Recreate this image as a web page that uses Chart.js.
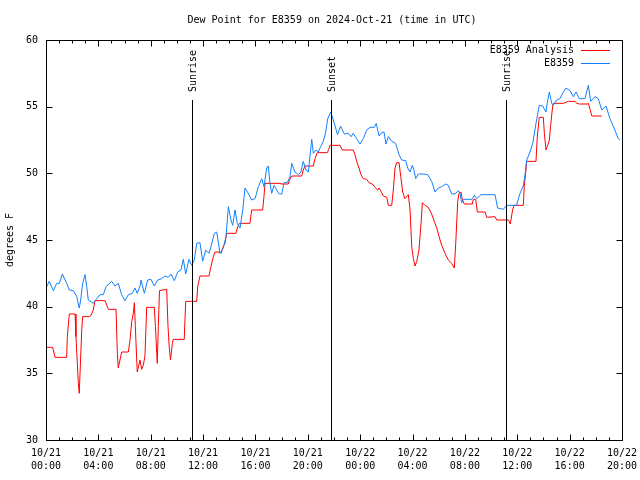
<!DOCTYPE html>
<html>
<head>
<meta charset="utf-8">
<script src="https://cdn.jsdelivr.net/npm/chart.js@4/dist/chart.umd.min.js"></script>
<style>
  html, body { margin: 0; padding: 0; background: #fff; }
  canvas { display: block; }
</style>
</head>
<body>
<canvas id="dewChart" width="640" height="480"></canvas>
<script>
// hours since 2024-10-21 00:00 UTC, dew point in degrees F
const obsHours = [0.05,0.25,0.56,0.82,1.02,1.25,1.58,1.78,2.09,2.35,2.54,2.65,2.80,2.98,3.11,3.23,3.61,3.87,4.13,4.38,
  4.58,5.02,5.27,5.52,5.78,6.03,6.29,6.59,6.80,6.97,7.18,7.26,7.51,7.77,8.02,8.27,8.53,8.84,9.09,9.34,
  9.55,9.80,10.06,10.31,10.49,10.67,10.92,11.13,11.33,11.51,11.76,11.97,12.20,12.45,12.60,12.86,13.04,13.29,13.54,13.75,
  13.93,14.13,14.26,14.44,14.61,14.82,15.03,15.20,15.45,15.71,15.97,16.22,16.48,16.65,16.86,16.98,17.11,17.24,17.42,17.62,
  17.82,18.01,18.18,18.43,18.64,18.77,19.02,19.27,19.48,19.65,19.86,20.04,20.30,20.42,20.63,20.80,20.98,21.18,21.37,21.52,
  21.75,21.95,22.27,22.50,22.79,23.09,23.30,23.47,23.73,23.99,24.24,24.50,24.75,25.08,25.23,25.44,25.64,25.82,25.97,26.15,
  26.41,26.71,26.97,27.17,27.48,27.63,27.81,27.98,28.11,28.24,28.44,28.82,29.16,29.46,29.72,29.97,30.23,30.53,30.73,30.99,
  31.24,31.50,31.63,31.75,31.88,32.14,32.52,32.72,32.90,33.23,34.30,34.50,34.93,35.19,35.94,36.21,36.46,36.59,36.72,36.97,
  37.18,37.43,37.68,37.94,38.19,38.29,38.45,38.63,38.75,39.01,39.26,39.52,39.72,40.03,40.28,40.49,40.74,41.17,41.43,41.61,
  41.94,42.19,42.45,42.78,43.08,43.39,43.72,43.85];
const obsDew = [41.5,41.9,41.2,41.75,41.75,42.45,41.75,41.25,41.2,40.75,39.9,40.5,41.75,42.4,41.5,40.5,40.25,40.6,40.9,40.9,
  41.5,41.9,41.55,41.75,40.9,40.45,40.9,41.0,41.4,41.0,41.55,42.0,41.0,42.0,42.05,41.55,42.0,42.1,42.3,42.2,
  42.45,41.95,42.6,42.75,43.55,42.45,43.55,43.1,43.5,44.75,44.8,43.4,44.25,44.0,44.5,45.5,45.6,44.0,44.4,45.25,
  47.5,46.5,46.1,47.25,46.25,45.9,47.25,48.9,48.5,48.0,48.1,49.0,49.6,49.0,50.4,50.55,49.25,48.5,49.1,48.75,
  48.45,48.45,49.3,49.3,49.75,50.75,50.1,49.9,50.1,50.9,50.25,50.1,52.55,51.5,51.75,51.6,52.0,52.4,53.1,54.1,
  54.6,54.0,52.9,53.55,52.95,53.0,52.75,53.0,52.6,52.2,52.6,53.25,53.45,53.45,53.75,52.8,53.05,53.1,52.2,52.75,
  52.4,52.25,51.4,51.0,50.95,50.4,50.1,50.6,50.25,49.6,49.95,49.95,49.9,49.4,48.6,48.9,49.0,49.2,49.1,48.45,
  48.45,48.7,48.5,47.8,48.05,48.05,48.05,48.35,48.1,48.4,48.4,47.4,47.3,47.6,47.6,48.5,49.05,49.9,51.0,51.6,
  52.25,53.75,55.1,55.05,54.6,55.25,56.1,55.25,55.1,55.5,55.6,56.1,56.4,56.2,55.75,56.1,55.6,55.6,56.6,55.4,
  55.75,55.6,54.75,55.05,54.1,53.4,52.6,52.5];

const anaHours = [0.05,0.51,0.69,1.58,1.63,1.78,2.22,2.29,2.47,2.54,2.60,2.73,2.80,3.31,3.44,3.61,3.74,4.51,4.76,5.35,
  5.45,5.52,5.65,5.78,6.29,6.42,6.55,6.67,6.75,6.82,6.97,7.18,7.31,7.43,7.56,7.69,8.27,8.36,8.46,8.50,
  8.58,8.67,9.22,9.32,9.42,9.51,9.65,9.72,10.56,10.67,11.51,11.59,11.76,12.45,12.60,12.78,12.91,13.29,13.37,13.54,
  13.67,13.80,14.51,14.61,14.77,15.58,15.71,16.55,16.65,16.73,17.88,17.93,18.51,18.59,18.77,19.53,19.65,19.79,20.42,20.55,
  20.72,21.49,21.60,21.69,22.46,22.63,23.47,23.60,23.73,23.91,24.06,24.24,24.50,24.67,24.93,25.13,25.34,25.44,25.64,25.77,
  26.03,26.15,26.41,26.53,26.66,26.79,26.97,27.10,27.25,27.42,27.68,27.81,27.94,28.06,28.19,28.32,28.49,28.65,28.75,28.95,
  29.20,29.46,29.66,29.85,30.10,30.23,30.48,30.73,30.99,31.19,31.30,31.45,31.55,31.70,31.80,31.95,32.57,32.64,32.82,32.95,
  33.54,33.67,34.30,34.43,35.32,35.47,35.64,35.75,36.46,36.54,36.64,36.72,37.43,37.53,37.68,37.99,38.07,38.19,38.29,38.45,
  38.55,38.71,38.75,39.52,39.90,40.41,40.54,40.74,41.35,41.43,41.56,41.69,42.45];
const anaDew = [36.95,36.95,36.2,36.2,37.75,39.45,39.45,37.75,34.25,33.5,35.0,38.25,39.25,39.25,39.35,39.75,40.45,40.45,39.8,39.8,
  36.5,35.4,36.0,36.6,36.6,37.5,38.9,39.5,40.3,38.6,35.1,36.0,35.3,35.6,36.3,39.95,39.95,38.5,36.5,35.75,
  38.5,41.2,41.3,38.5,36.9,36.0,37.25,37.55,37.55,40.4,40.4,41.5,42.3,42.3,43.0,43.75,44.1,44.1,44.0,44.5,
  44.75,45.5,45.5,45.9,46.25,46.25,47.25,47.25,48.25,49.25,49.25,49.2,49.2,49.5,49.8,49.8,50.25,50.55,50.55,51.1,
  51.55,51.55,51.8,52.1,52.1,51.75,51.75,51.4,50.9,50.4,49.9,49.6,49.55,49.3,49.2,48.95,48.75,48.9,48.55,48.3,
  48.2,47.6,47.6,48.75,50.4,50.8,50.8,49.75,48.6,48.1,48.4,47.25,44.5,43.6,43.05,43.4,44.25,46.25,47.8,47.6,
  47.45,46.95,46.4,45.9,45.0,44.6,44.0,43.5,43.25,42.9,44.75,47.9,48.5,48.6,48.05,47.7,47.7,48.05,48.05,47.1,
  47.1,46.7,46.75,46.5,46.5,46.2,47.25,47.6,47.6,49.1,50.0,50.9,50.9,52.75,54.2,54.2,53.0,51.75,52.0,52.5,
  53.6,55.1,55.25,55.25,55.4,55.4,55.25,55.2,55.2,55.25,54.8,54.3,54.3];

const xTickLabels = [
  ['10/21', '00:00'], ['10/21', '04:00'], ['10/21', '08:00'], ['10/21', '12:00'],
  ['10/21', '16:00'], ['10/21', '20:00'], ['10/22', '00:00'], ['10/22', '04:00'],
  ['10/22', '08:00'], ['10/22', '12:00'], ['10/22', '16:00'], ['10/22', '20:00']
];

const eventLabels = ['Sunrise', 'Sunset', 'Sunrise'];
const eventHours = [11.18, 21.75, 35.14];

const seriesNames = ['E8359 Analysis', 'E8359'];
const seriesColors = ['#ff0000', '#1080ff'];

const titleText = 'Dew Point for E8359 on 2024-Oct-21 (time in UTC)';
const yTitle = 'degrees F';
const monoFont = '10px "DejaVu Sans Mono", monospace';

function toPoints(xs, ys) {
  return xs.map((x, i) => ({ x, y: ys[i] }));
}

const frame = {
  id: 'frame',
  afterDraw(chart) {
    const ctx = chart.ctx;
    const area = chart.chartArea;
    const xs = chart.scales.x;
    const ys = chart.scales.y;
    ctx.save();
    ctx.strokeStyle = '#000';
    ctx.lineWidth = 1;

    // event markers
    const lineTop = ys.getPixelForValue(55.5);
    eventHours.forEach((h, i) => {
      const px = Math.round(xs.getPixelForValue(h)) + 0.5;
      ctx.beginPath();
      ctx.moveTo(px, lineTop);
      ctx.lineTo(px, area.bottom);
      ctx.stroke();
      ctx.save();
      ctx.translate(px + 1, lineTop - 8);
      ctx.rotate(-Math.PI / 2);
      ctx.font = monoFont;
      ctx.fillStyle = '#000';
      ctx.textAlign = 'left';
      ctx.textBaseline = 'middle';
      ctx.fillText(eventLabels[i], 0, 0);
      ctx.restore();
    });

    // box
    const l = Math.round(area.left) + 0.5, r = Math.round(area.right) + 0.5;
    const t = Math.round(area.top) + 0.5, b = Math.round(area.bottom) + 0.5;
    ctx.strokeRect(l, t, r - l, b - t);

    // inward ticks
    ctx.beginPath();
    for (let h = 0; h <= 44; h++) {
      const px = Math.round(xs.getPixelForValue(h)) + 0.5;
      const len = h % 4 === 0 ? 6 : 3;
      ctx.moveTo(px, b); ctx.lineTo(px, b - len);
      ctx.moveTo(px, t); ctx.lineTo(px, t + len);
    }
    for (let v = 30; v <= 60; v += 5) {
      const py = Math.round(ys.getPixelForValue(v)) + 0.5;
      ctx.moveTo(l, py); ctx.lineTo(l + 6, py);
      ctx.moveTo(r, py); ctx.lineTo(r - 6, py);
    }
    ctx.stroke();

    // title and y label
    ctx.font = monoFont;
    ctx.fillStyle = '#000';
    ctx.textAlign = 'center';
    ctx.textBaseline = 'middle';
    ctx.fillText(titleText, 332, 20);
    ctx.save();
    ctx.translate(10, 240);
    ctx.rotate(-Math.PI / 2);
    ctx.fillText(yTitle, 0, 0);
    ctx.restore();

    // legend
    ctx.textAlign = 'right';
    seriesNames.forEach((name, i) => {
      const y = 50 + i * 13;
      ctx.fillStyle = '#000';
      ctx.fillText(name, 574, y);
      ctx.strokeStyle = seriesColors[i];
      ctx.beginPath();
      ctx.moveTo(581, y + 0.5);
      ctx.lineTo(610, y + 0.5);
      ctx.stroke();
    });
    ctx.restore();
  }
};

new Chart(document.getElementById('dewChart'), {
  type: 'line',
  data: {
    datasets: [
      {
        label: seriesNames[0],
        data: toPoints(anaHours, anaDew),
        borderColor: seriesColors[0],
        borderWidth: 1,
        pointRadius: 0,
        tension: 0,
        order: 1
      },
      {
        label: seriesNames[1],
        data: toPoints(obsHours, obsDew),
        borderColor: seriesColors[1],
        borderWidth: 1,
        pointRadius: 0,
        tension: 0,
        order: 0
      }
    ]
  },
  options: {
    responsive: false,
    animation: false,
    devicePixelRatio: 1,
    layout: { padding: { top: 40, right: 18, bottom: 0, left: 0 } },
    plugins: {
      legend: { display: false },
      title: { display: false },
      tooltip: { enabled: false }
    },
    scales: {
      x: {
        type: 'linear',
        min: 0,
        max: 44,
        grid: { display: false, drawTicks: false },
        border: { display: false },
        afterFit(scale) {
          scale.height = 40;
          scale.paddingLeft = 0;
          scale.paddingRight = 0;
        },
        afterBuildTicks(scale) {
          scale.ticks = xTickLabels.map((_, i) => ({ value: i * 4 }));
        },
        ticks: {
          autoSkip: false,
          maxRotation: 0,
          padding: 7,
          color: '#000',
          font: { family: '"DejaVu Sans Mono", monospace', size: 10, lineHeight: 1.3 },
          callback(value, index) { return xTickLabels[index]; }
        }
      },
      y: {
        min: 30,
        max: 60,
        grid: { display: false, drawTicks: false },
        border: { display: false },
        afterFit(scale) {
          scale.width = 46;
          scale.paddingTop = 0;
          scale.paddingBottom = 0;
        },
        ticks: {
          stepSize: 5,
          padding: 8,
          color: '#000',
          font: { family: '"DejaVu Sans Mono", monospace', size: 10 }
        }
      }
    }
  },
  plugins: [frame]
});
</script>
</body>
</html>
